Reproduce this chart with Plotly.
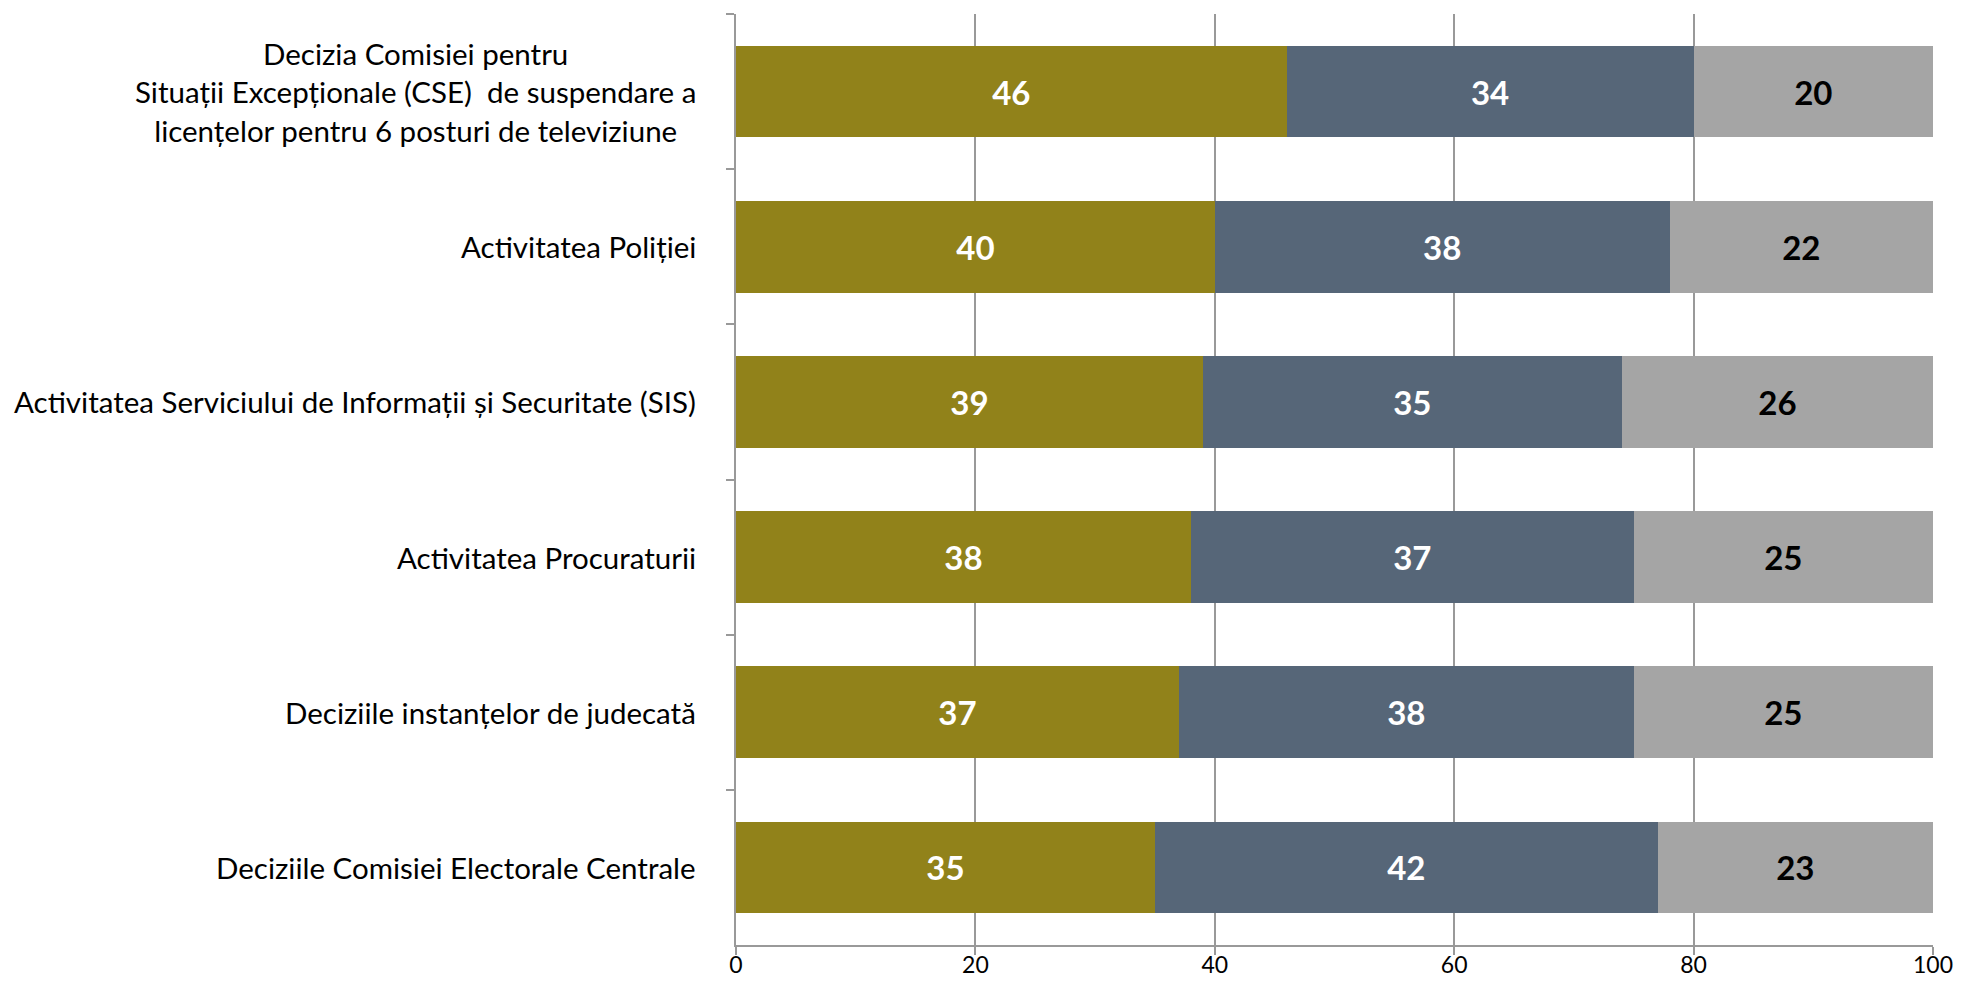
import plotly.graph_objects as go

categories = [
    "Decizia Comisiei pentru<br>Situații Excepționale (CSE)  de suspendare a<br>licențelor pentru 6 posturi de televiziune",
    "Activitatea Poliției",
    "Activitatea Serviciului de Informații și Securitate (SIS)",
    "Activitatea Procuraturii",
    "Deciziile instanțelor de judecată",
    "Deciziile Comisiei Electorale Centrale",
]
series_a = [46, 40, 39, 38, 37, 35]
series_b = [34, 38, 35, 37, 38, 42]
series_c = [20, 22, 26, 25, 25, 23]
x_ticks = [0, 20, 40, 60, 80, 100]

FONT = "Lato"
colors = ["#91821A", "#566678", "#A5A5A5"]
text_colors = ["white", "white", "black"]

fig = go.Figure()
for vals, col, tc in zip([series_a, series_b, series_c], colors, text_colors):
    fig.add_trace(go.Bar(
        y=categories, x=vals, orientation="h",
        marker=dict(color=col, line=dict(width=0)),
        text=[str(v) for v in vals], textposition="inside",
        insidetextanchor="middle",
        textfont=dict(family=FONT, size=33, color=tc, weight="bold"),
        constraintext="none",
        hoverinfo="skip",
    ))

for cat in categories:
    fig.add_annotation(
        x=0, xref="paper", y=cat, yref="y", text=cat, showarrow=False,
        xanchor="right", yanchor="middle", align="center", xshift=-38,
        font=dict(family=FONT, size=29.5, color="black"),
    )

fig.update_layout(
    barmode="stack", bargap=0.41,
    width=1946, height=970,
    margin=dict(l=728, r=21, t=6, b=33, pad=0, autoexpand=False),
    plot_bgcolor="white", paper_bgcolor="white",
    showlegend=False,
    uniformtext=dict(mode=False),
)
fig.update_xaxes(
    range=[0, 100], tickvals=x_ticks, ticktext=[str(t) for t in x_ticks],
    showgrid=True, gridcolor="#999999", gridwidth=2,
    showline=True, linecolor="#999999", linewidth=2,
    ticks="outside", ticklen=8, tickwidth=2, tickcolor="#999999",
    tickfont=dict(family=FONT, size=23, color="black"),
    ticklabelstandoff=-10,
    ticklabeloverflow="allow", automargin=False,
    zeroline=False, fixedrange=True,
)
fig.update_yaxes(
    autorange="reversed", showticklabels=False, automargin=False,
    showline=True, linecolor="#999999", linewidth=2,
    ticks="outside", ticklen=8, tickwidth=2, tickcolor="#999999",
    tickson="boundaries", showgrid=False, zeroline=False, fixedrange=True,
)

fig.write_html("out.html")
